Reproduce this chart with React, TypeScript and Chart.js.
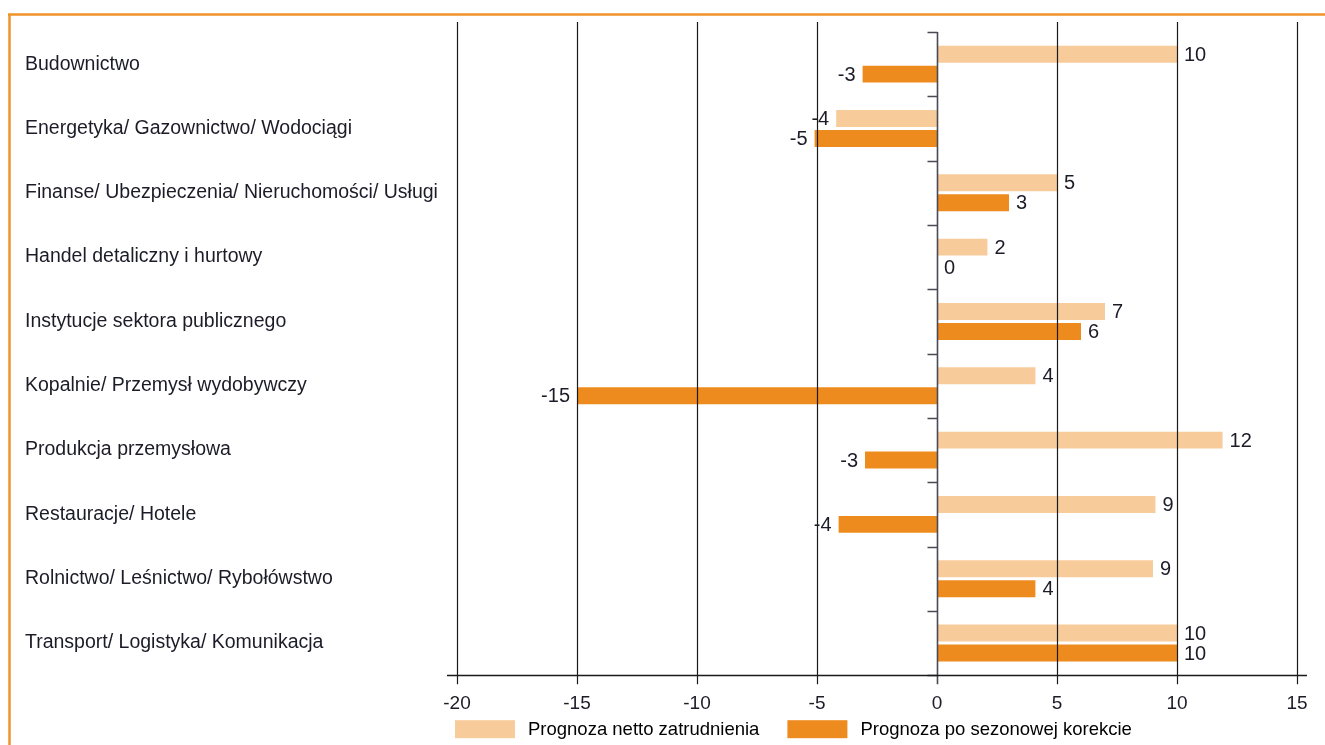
import React, { useEffect, useRef } from "react";
import { Chart, registerables } from "chart.js";

Chart.register(...registerables);

const categories = [
  "Budownictwo",
  "Energetyka/ Gazownictwo/ Wodociągi",
  "Finanse/ Ubezpieczenia/ Nieruchomości/ Usługi",
  "Handel detaliczny i hurtowy",
  "Instytucje sektora publicznego",
  "Kopalnie/ Przemysł wydobywczy",
  "Produkcja przemysłowa",
  "Restauracje/ Hotele",
  "Rolnictwo/ Leśnictwo/ Rybołówstwo",
  "Transport/ Logistyka/ Komunikacja",
];
const netForecast = [10, -4.2, 5, 2.1, 7, 4.1, 11.9, 9.1, 9, 10];
const seasonalForecast = [-3.1, -5.1, 3, 0, 6, -15, -3, -4.1, 4.1, 10];
const seriesNames = ["Prognoza netto zatrudnienia", "Prognoza po sezonowej korekcie"];
const xTicks = [-20, -15, -10, -5, 0, 5, 10, 15];

const LIGHT = "#F8CB9B";
const DARK = "#EE8B1F";
const FRAME = "#F0932B";
const TEXT = "#1c1c28";
const FONT = "'Liberation Sans', Arial, Helvetica, sans-serif";

const overlayPlugin = {
  id: "overlay",
  beforeDraw(chart: any) {
    const ctx = chart.ctx;
    ctx.save();
    ctx.strokeStyle = FRAME;
    ctx.lineWidth = 2.5;
    ctx.beginPath();
    ctx.moveTo(8, 14.5);
    ctx.lineTo(chart.width, 14.5);
    ctx.moveTo(9.5, 14);
    ctx.lineTo(9.5, chart.height);
    ctx.stroke();
    ctx.restore();
  },
  afterDatasetsDraw(chart: any) {
    const ctx = chart.ctx;
    const xs = chart.scales.x;
    const ys = chart.scales.y;
    const area = chart.chartArea;
    const top = area.top - 10;
    const bottom = area.bottom;
    ctx.save();
    // vertical grid lines
    xTicks.forEach((v) => {
      if (v === 0) return;
      const px = Math.round(xs.getPixelForValue(v)) + 0.5;
      ctx.strokeStyle = "#1a1a1a";
      ctx.lineWidth = 1.2;
      ctx.beginPath();
      ctx.moveTo(px, top);
      ctx.lineTo(px, bottom + 9);
      ctx.stroke();
    });
    // zero line with category ticks
    const zx = Math.round(xs.getPixelForValue(0)) + 0.5;
    ctx.strokeStyle = "#4a4a55";
    ctx.lineWidth = 1.6;
    ctx.beginPath();
    ctx.moveTo(zx, area.top);
    ctx.lineTo(zx, bottom + 9);
    ctx.stroke();
    const n = categories.length;
    const step = (ys.bottom - ys.top) / n;
    ctx.lineWidth = 1.4;
    ctx.beginPath();
    for (let i = 0; i <= n; i++) {
      const py = Math.round(ys.top + i * step) + 0.5;
      ctx.moveTo(zx - 10, py);
      ctx.lineTo(zx, py);
    }
    ctx.stroke();
    // x axis line
    ctx.strokeStyle = "#1a1a1a";
    ctx.lineWidth = 1.5;
    ctx.beginPath();
    ctx.moveTo(area.left - 10, Math.round(bottom) + 0.5);
    ctx.lineTo(area.right + 10, Math.round(bottom) + 0.5);
    ctx.stroke();

    // value labels
    ctx.fillStyle = TEXT;
    ctx.font = `20px ${FONT}`;
    ctx.textBaseline = "middle";
    chart.data.datasets.forEach((ds: any, di: number) => {
      const meta = chart.getDatasetMeta(di);
      meta.data.forEach((bar: any, i: number) => {
        const v = ds.data[i];
        const txt = String(Math.round(v));
        if (v >= 0) {
          ctx.textAlign = "left";
          ctx.fillText(txt, bar.x + 7, bar.y + 1);
        } else {
          ctx.textAlign = "right";
          ctx.fillText(txt, bar.x - 7, bar.y + 1);
        }
      });
    });

    // legend
    ctx.font = `18.5px ${FONT}`;
    ctx.textAlign = "left";
    let lx = area.left - 2;
    const ly = bottom + 45;
    chart.data.datasets.forEach((ds: any) => {
      ctx.fillStyle = ds.backgroundColor;
      ctx.fillRect(lx, ly, 60, 18);
      ctx.fillStyle = "#000";
      ctx.fillText(ds.label, lx + 73, ly + 9.5);
      lx += 73 + ctx.measureText(ds.label).width + 28;
    });
    ctx.restore();
  },
};

export default function App() {
  const ref = useRef<HTMLCanvasElement>(null);
  useEffect(() => {
    if (!ref.current) return;
    const chart = new Chart(ref.current, {
      type: "bar",
      data: {
        labels: categories,
        datasets: [
          {
            label: seriesNames[0],
            data: netForecast,
            backgroundColor: LIGHT,
            barPercentage: 0.85,
            categoryPercentage: 0.62,
          },
          {
            label: seriesNames[1],
            data: seasonalForecast,
            backgroundColor: DARK,
            barPercentage: 0.85,
            categoryPercentage: 0.62,
          },
        ],
      },
      options: {
        indexAxis: "y",
        animation: false,
        responsive: false,
        layout: { padding: { left: 25, top: 32, right: 28, bottom: 13 } },
        plugins: {
          legend: { display: false },
          tooltip: { enabled: false },
        },
        scales: {
          x: {
            type: "linear",
            min: -20,
            max: 15,
            afterBuildTicks: (scale: any) => {
              scale.ticks = xTicks.map((v) => ({ value: v }));
            },
            grid: { display: false, drawTicks: false },
            border: { display: false },
            ticks: {
              color: TEXT,
              font: { family: FONT, size: 19 },
              padding: 17,
              maxRotation: 0,
            },
          },
          y: {
            grid: { display: false, drawTicks: false },
            border: { display: false },
            afterFit: (scale: any) => {
              scale.width = 432;
            },
            ticks: {
              crossAlign: "far",
              color: TEXT,
              font: { family: FONT, size: 19.5 },
              padding: 0,
            },
          },
        },
      },
      plugins: [overlayPlugin],
    } as any);
    return () => chart.destroy();
  }, []);
  return (
    <div style={{ position: "fixed", left: 0, top: 0, width: 1325, height: 745, background: "#fff" }}>
      <canvas ref={ref} width={1325} height={745} style={{ display: "block" }} />
    </div>
  );
}
